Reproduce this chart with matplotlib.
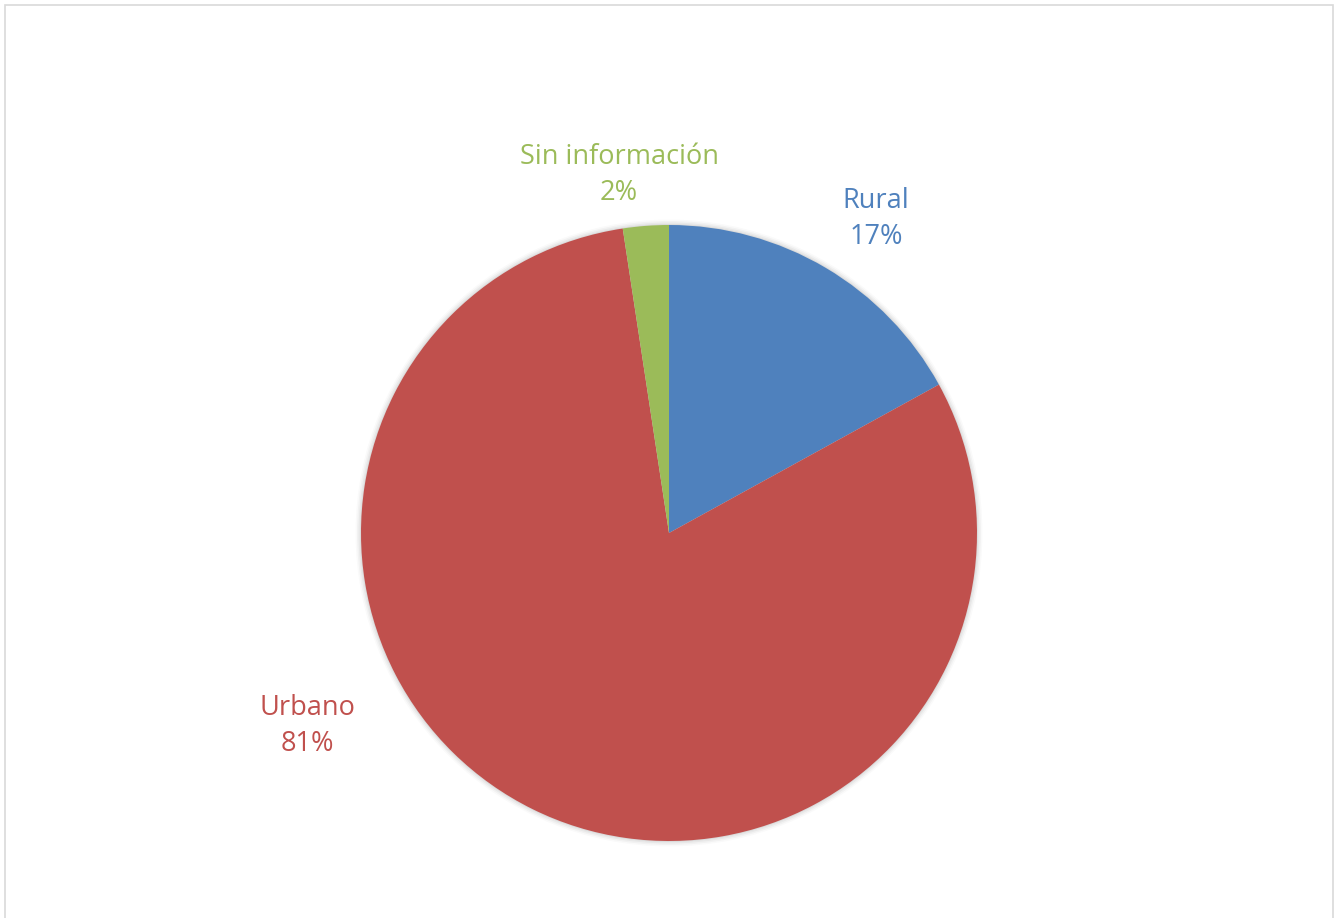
import matplotlib.pyplot as plt
from matplotlib.patches import Rectangle, Circle

# datos
categorias = ["Rural", "Urbano", "Sin información"]
valores = [17.0, 80.6, 2.4]
colores = ["#4f81bd", "#c0504d", "#9bbb59"]

W, H = 1336, 918
fig = plt.figure(figsize=(W / 100, H / 100), dpi=100)
ax = fig.add_axes([0, 0, 1, 1])
ax.set_xlim(0, W)
ax.set_ylim(0, H)
ax.set_aspect("equal")
ax.axis("off")

# marco del gráfico
ax.add_patch(Rectangle((5, -5), W - 8, H, fill=False,
                       edgecolor="#d9d9d9", lw=1.2))

centro = (669, H - 533)
radio = 308

# sombra suave
for i, a in enumerate([0.05, 0.04, 0.03, 0.02]):
    ax.add_patch(Circle(centro, radio + 1 + i * 1.5, color="black",
                        alpha=a, lw=0, zorder=1))

ax.pie(valores, colors=colores, startangle=90, counterclock=False,
       center=centro, radius=radio, frame=True,
       wedgeprops=dict(linewidth=0, zorder=2))
ax.set_xlim(0, W)
ax.set_ylim(0, H)
ax.axis("off")

# etiquetas
pos = {"Rural": (876, 219), "Urbano": (307, 726), "Sin información": (619, 175)}
for cat, val, col in zip(categorias, valores, colores):
    x, y = pos[cat]
    ax.text(x, H - y, f"{cat}\n{round(val):.0f}%", color=col, ha="center",
            va="center", fontsize=19.5, family="Open Sans", linespacing=1.42)

fig.savefig("out.png", dpi=100)
